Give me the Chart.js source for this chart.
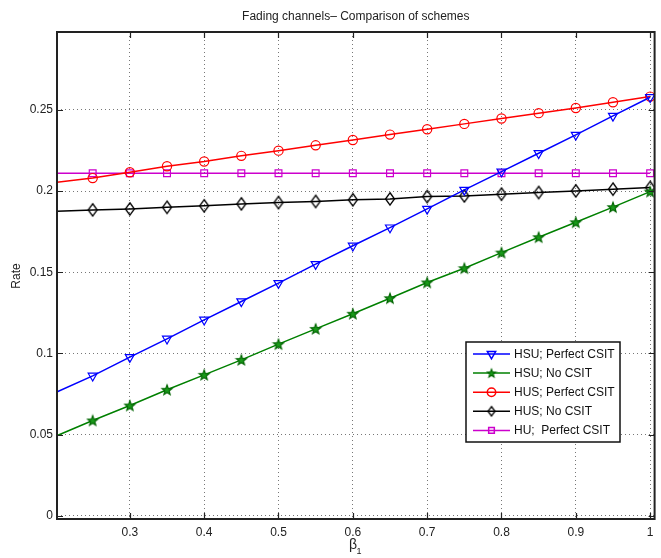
<!DOCTYPE html>
<html>
<head>
<meta charset="utf-8">
<title>Fading channels - Comparison of schemes</title>
<script src="https://cdn.jsdelivr.net/npm/chart.js@4.4.1/dist/chart.umd.min.js"></script>
<style>
  html, body { margin: 0; padding: 0; background: #fff; }
</style>
</head>
<body>
<canvas id="rateChart" width="661" height="558"></canvas>
<script>
// values
var beta = [0.2, 0.25, 0.3, 0.35, 0.4, 0.45, 0.5, 0.55, 0.6, 0.65, 0.7, 0.75, 0.8, 0.85, 0.9, 0.95, 1.0];
var hsuPerfect = [0.0759, 0.0862, 0.0977, 0.1090, 0.1207, 0.1320, 0.1433, 0.1550, 0.1663, 0.1775, 0.1890, 0.2007, 0.2120, 0.2233, 0.2346, 0.2463, 0.2578];
var hsuNoCsit  = [0.0490, 0.0587, 0.0679, 0.0776, 0.0868, 0.0960, 0.1057, 0.1151, 0.1244, 0.1340, 0.1437, 0.1525, 0.1621, 0.1716, 0.1808, 0.1901, 0.1997];
var husPerfect = [0.2053, 0.2080, 0.2116, 0.2153, 0.2182, 0.2217, 0.2249, 0.2282, 0.2315, 0.2348, 0.2381, 0.2414, 0.2447, 0.2480, 0.2512, 0.2547, 0.2582];
var husNoCsit  = [0.1876, 0.1884, 0.1890, 0.1900, 0.1909, 0.1921, 0.1929, 0.1936, 0.1946, 0.1952, 0.1966, 0.1970, 0.1981, 0.1991, 0.2001, 0.2012, 0.2022];
var huPerfect  = [0.2110, 0.2110, 0.2110, 0.2110, 0.2110, 0.2110, 0.2110, 0.2110, 0.2110, 0.2110, 0.2110, 0.2110, 0.2110, 0.2110, 0.2110, 0.2110, 0.2110];

var xTicks = [0.3, 0.4, 0.5, 0.6, 0.7, 0.8, 0.9, 1];
var yTicks = [0, 0.05, 0.1, 0.15, 0.2, 0.25];
var seriesNames = ["HSU; Perfect CSIT", "HSU; No CSIT", "HUS; Perfect CSIT", "HUS; No CSIT", "HU;  Perfect CSIT"];

var FONT = "'Liberation Sans', Arial, Helvetica, sans-serif";

// filled green pentagram marker
function makeStar(rOut) {
  var s = Math.ceil(rOut * 2 + 3);
  var c = document.createElement("canvas");
  c.width = s; c.height = s;
  var g = c.getContext("2d");
  var cx = s / 2, cy = s / 2 + rOut * 0.08;
  g.beginPath();
  for (var i = 0; i < 10; i++) {
    var r = (i % 2 === 0) ? rOut : rOut * 0.42;
    var a = -Math.PI / 2 + i * Math.PI / 5;
    var px = cx + r * Math.cos(a), py = cy + r * Math.sin(a);
    if (i === 0) g.moveTo(px, py); else g.lineTo(px, py);
  }
  g.closePath();
  g.fillStyle = "#1a9a1a";
  g.fill();
  g.strokeStyle = "#006400";
  g.lineWidth = 1.1;
  g.stroke();
  return c;
}

// matlab style diamond, a bit taller than wide
function makeDiamond(w, h) {
  var c = document.createElement("canvas");
  c.width = Math.ceil(w + 3); c.height = Math.ceil(h + 3);
  var g = c.getContext("2d");
  var cx = c.width / 2, cy = c.height / 2;
  g.beginPath();
  g.moveTo(cx, cy - h / 2);
  g.lineTo(cx + w / 2, cy);
  g.lineTo(cx, cy + h / 2);
  g.lineTo(cx - w / 2, cy);
  g.closePath();
  g.strokeStyle = "#000";
  g.lineWidth = 1.3;
  g.stroke();
  return c;
}

var starImg = makeStar(5.4);
var diamondImg = makeDiamond(9, 12.5);
var starSmall = makeStar(4.4);
var diamondSmall = makeDiamond(7, 9.5);

function pts(ys) {
  return beta.map(function(b, i) { return { x: b, y: ys[i] }; });
}
function radii(r) {
  return beta.map(function(b, i) { return i === 0 ? 0 : r; });
}

function dataset(label, ys, color, style, r, rot) {
  return {
    label: label,
    data: pts(ys),
    borderColor: color,
    backgroundColor: color,
    borderWidth: 1.5,
    pointStyle: style,
    pointRadius: radii(r),
    pointRotation: rot || 0,
    pointBorderColor: color,
    pointBackgroundColor: "rgba(0,0,0,0)",
    pointBorderWidth: 1.2,
    tension: 0
  };
}

var datasets = [
  dataset(seriesNames[0], hsuPerfect, "#0000ff", "triangle", 5.2, 180),
  dataset(seriesNames[1], hsuNoCsit, "#008000", starImg, 5),
  dataset(seriesNames[2], husPerfect, "#ff0000", "circle", 4.6),
  dataset(seriesNames[3], husNoCsit, "#000000", diamondImg, 5),
  dataset(seriesNames[4], huPerfect, "#cc00cc", "rect", 4.8)
];
var legendStyles = ["triangle", starSmall, "circle", diamondSmall, "rect"];
var legendRadius = [4.8, 4, 4.2, 4, 4];

// frame, inward ticks, title, axis labels and the legend box
var matlabDecor = {
  id: "matlabDecor",
  afterDraw: function(chart) {
    var ctx = chart.ctx;
    var a = chart.chartArea;
    var xs = chart.scales.x, ys = chart.scales.y;
    ctx.save();

    // tick marks pointing inside, on all four sides
    ctx.strokeStyle = "#222";
    ctx.lineWidth = 1.2;
    ctx.beginPath();
    xTicks.forEach(function(v) {
      var px = Math.round(xs.getPixelForValue(v)) + 0.5;
      ctx.moveTo(px, a.bottom); ctx.lineTo(px, a.bottom - 6);
      ctx.moveTo(px, a.top); ctx.lineTo(px, a.top + 6);
    });
    yTicks.forEach(function(v) {
      var py = Math.round(ys.getPixelForValue(v)) + 0.5;
      ctx.moveTo(a.left, py); ctx.lineTo(a.left + 6, py);
      ctx.moveTo(a.right, py); ctx.lineTo(a.right - 6, py);
    });
    ctx.stroke();

    // axes box
    ctx.lineWidth = 2;
    ctx.strokeStyle = "#222";
    ctx.strokeRect(a.left, a.top, a.right - a.left, a.bottom - a.top);

    // title and axis labels
    ctx.fillStyle = "#222";
    ctx.font = "12px " + FONT;
    ctx.textAlign = "center";
    ctx.textBaseline = "middle";
    ctx.fillText("Fading channels\u2013 Comparison of schemes", (a.left + a.right) / 2, 17);

    ctx.save();
    ctx.translate(17, 276);
    ctx.rotate(-Math.PI / 2);
    ctx.fillText("Rate", 0, 0);
    ctx.restore();

    ctx.font = "14px " + FONT;
    ctx.fillText("\u03b2", 353, 545);
    ctx.font = "9px " + FONT;
    ctx.fillText("1", 359, 552);

    // legend
    var lx = 466, ly = 342, lw = 154, lh = 100;
    ctx.fillStyle = "#fff";
    ctx.fillRect(lx, ly, lw, lh);
    ctx.lineWidth = 1.5;
    ctx.strokeStyle = "#111";
    ctx.strokeRect(lx, ly, lw, lh);

    chart.data.datasets.forEach(function(ds, i) {
      var y = 354 + i * 19.1;
      ctx.strokeStyle = ds.borderColor;
      ctx.lineWidth = 1.5;
      ctx.beginPath();
      ctx.moveTo(473, y); ctx.lineTo(510, y);
      ctx.stroke();
      ctx.strokeStyle = ds.borderColor;
      ctx.fillStyle = "rgba(0,0,0,0)";
      Chart.helpers.drawPoint(ctx, {
        pointStyle: legendStyles[i],
        radius: legendRadius[i],
        rotation: ds.pointRotation,
        borderWidth: 1.1
      }, 491.5, y);
      ctx.fillStyle = "#111";
      ctx.font = "12px " + FONT;
      ctx.textAlign = "left";
      ctx.textBaseline = "middle";
      ctx.fillText(ds.label, 514, y + 0.5);
    });

    ctx.restore();
  }
};

var ctx = document.getElementById("rateChart");

var chart = new Chart(ctx, {
  type: "line",
  data: { datasets: datasets },
  options: {
    responsive: false,
    animation: false,
    events: [],
    layout: { padding: { left: 0, top: 32, right: 4, bottom: 0 } },
    plugins: {
      legend: { display: false },
      title: { display: false },
      tooltip: { enabled: false }
    },
    scales: {
      x: {
        type: "linear",
        min: 0.202,
        max: 1.006,
        afterBuildTicks: function(scale) {
          scale.ticks = xTicks.map(function(v) { return { value: v }; });
        },
        afterFit: function(scale) { scale.height = 39; },
        ticks: {
          padding: 6,
          color: "#222",
          font: { family: FONT, size: 12 },
          maxRotation: 0,
          callback: function(v) { return String(v); }
        },
        grid: { color: "#777", lineWidth: 1, drawTicks: false },
        border: { display: false, dash: [1, 3] }
      },
      y: {
        type: "linear",
        min: -0.002,
        max: 0.298,
        afterBuildTicks: function(scale) {
          scale.ticks = yTicks.map(function(v) { return { value: v }; });
        },
        afterFit: function(scale) { scale.width = 57; },
        ticks: {
          padding: 4,
          color: "#222",
          font: { family: FONT, size: 12 },
          callback: function(v) { return String(v); }
        },
        grid: { color: "#777", lineWidth: 1, drawTicks: false },
        border: { display: false, dash: [1, 3] }
      }
    }
  },
  plugins: [matlabDecor]
});
</script>
</body>
</html>
